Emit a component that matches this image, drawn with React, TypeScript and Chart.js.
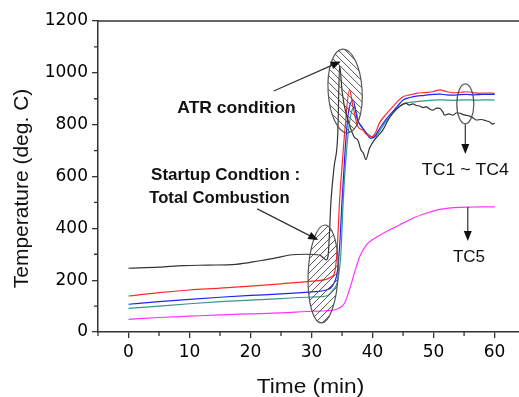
import React, { useEffect, useRef } from "react";
import { Chart, registerables } from "chart.js";

Chart.register(...registerables);

// ---- axis ticks ----
const xTicks = [0, 10, 20, 30, 40, 50, 60];
const yTicks = [0, 200, 400, 600, 800, 1000, 1200];
const xMinorTicks = [-5, 5, 15, 25, 35, 45, 55];
const yMinorTicks = [100, 300, 500, 700, 900, 1100];

// ---- series (time in min, temperature in deg. C) ----
const tc1Time = [0, 5, 9, 13, 17.6, 21.5, 24, 26.4, 29.1, 31.3, 32.0, 32.4, 32.7, 33.2, 33.7, 34.3, 34.6, 35.0, 35.4, 36.2, 37.0, 37.6, 38.1, 38.5, 38.9, 39.5, 40.3, 41.0, 41.7, 42.5, 43.3, 44.4, 45.5, 46.0, 46.6, 47.2, 47.7, 48.3, 48.8, 49.4, 49.9, 50.5, 51.0, 51.5, 51.8, 52.5, 53.2, 53.8, 54.3, 55.0, 55.9, 56.5, 57.0, 57.8, 58.6, 59.2, 59.7, 60];
const tc1Temp = [246, 250, 256, 258, 261, 275, 285, 297, 300, 297, 285, 278, 292, 510, 638, 766, 1030, 930, 870, 800, 752, 740, 702, 690, 665, 709, 741, 760, 780, 815, 845, 870, 882, 876, 880, 874, 872, 866, 869, 860, 856, 864, 863, 850, 837, 842, 837, 846, 844, 838, 833, 826, 818, 820, 815, 810, 802, 806];

const tc2Time = [0, 5, 10, 15, 20, 25, 30, 32.4, 33.2, 33.8, 34.2, 34.6, 35.0, 35.5, 36.2, 36.8, 37.6, 38.4, 39.0, 39.8, 40.5, 41.1, 42.2, 43.3, 44.2, 45.0, 46.1, 47.2, 48.5, 49.9, 51.0, 52.1, 53.2, 54.3, 55.4, 56.5, 57.5, 58.6, 60];
const tc2Temp = [139, 152, 162, 169, 177, 186, 196, 203, 212, 231, 320, 509, 640, 790, 934, 870, 792, 779, 762, 753, 770, 805, 840, 869, 892, 908, 915, 921, 924, 927, 934, 928, 923, 925, 927, 924, 921, 922, 921];

const tc3Time = [0, 5, 10, 15, 20, 25, 30, 32.4, 33.5, 34.2, 34.6, 35.0, 35.5, 36.0, 36.8, 37.5, 38.3, 39.0, 39.7, 40.5, 41.3, 42.2, 43.3, 44.2, 45.0, 46.1, 47.2, 48.5, 49.9, 51.0, 52.1, 53.2, 54.3, 55.4, 56.5, 57.5, 58.6, 60];
const tc3Temp = [107, 117, 126, 134, 141, 147, 155, 162, 181, 230, 330, 509, 700, 840, 895, 820, 790, 765, 747, 760, 790, 820, 850, 875, 895, 905, 910, 913, 917, 918, 915, 914, 916, 917, 915, 916, 917, 917];

const tc4Time = [0, 5, 10, 15, 20, 25, 30, 32.4, 33.5, 34.3, 34.8, 35.2, 35.7, 36.3, 37.0, 37.8, 38.6, 39.4, 40.2, 41.0, 42.0, 43.0, 44.0, 45.0, 46.1, 47.2, 48.5, 49.9, 51.0, 52.1, 53.2, 54.3, 55.4, 56.5, 57.5, 58.6, 60];
const tc4Temp = [91, 100, 109, 117, 123, 129, 135, 139, 162, 200, 300, 509, 690, 820, 869, 806, 780, 760, 750, 770, 806, 835, 860, 880, 886, 889, 892, 895, 896, 895, 894, 895, 896, 895, 895, 896, 895];

const tc5Time = [0, 5, 10, 15, 20, 25, 30, 32.4, 34.3, 35.4, 36.2, 37.0, 37.9, 39.0, 40.3, 42.2, 44.4, 46.6, 48.8, 51.0, 52.5, 54.3, 56, 58, 60];
const tc5Temp = [49, 56, 61, 66, 70, 74, 80, 82, 90, 111, 162, 226, 291, 336, 361, 387, 413, 439, 458, 473, 478, 481, 482, 483, 483];

const seriesColors = ["#333333", "#ff2a2a", "#2222ff", "#2f9a8c", "#ff33ff"];

function toPoints(t: number[], v: number[]) {
  return t.map((x, i) => ({ x, y: v[i] }));
}

function drawText(ctx: CanvasRenderingContext2D, text: string, x: number, y: number, font: string, align: "left" | "center" | "right", stretch: number) {
  ctx.save();
  ctx.font = font;
  ctx.fillStyle = "#111";
  ctx.textBaseline = "alphabetic";
  ctx.textAlign = "left";
  const w = ctx.measureText(text).width * stretch;
  const left = align === "left" ? x : align === "center" ? x - w / 2 : x - w;
  ctx.translate(left, y);
  ctx.scale(stretch, 1);
  ctx.fillText(text, 0, 0);
  ctx.restore();
}

function ellipse(ctx: CanvasRenderingContext2D, cx: number, cy: number, rx: number, ry: number, rot: number, hatchDir: number) {
  ctx.save();
  ctx.strokeStyle = "#555";
  if (hatchDir !== 0) {
    ctx.save();
    ctx.beginPath();
    ctx.ellipse(cx, cy, rx, ry, rot, 0, Math.PI * 2);
    ctx.clip();
    ctx.beginPath();
    ctx.lineWidth = 1;
    const R = Math.max(rx, ry) + 4;
    for (let k = -2 * R; k <= 2 * R; k += 7) {
      if (hatchDir > 0) {
        ctx.moveTo(cx + k - R, cy - R);
        ctx.lineTo(cx + k + R, cy + R);
      } else {
        ctx.moveTo(cx + k - R, cy + R);
        ctx.lineTo(cx + k + R, cy - R);
      }
    }
    ctx.stroke();
    ctx.restore();
  }
  ctx.beginPath();
  ctx.lineWidth = 1.2;
  ctx.ellipse(cx, cy, rx, ry, rot, 0, Math.PI * 2);
  ctx.stroke();
  ctx.restore();
}

function arrow(ctx: CanvasRenderingContext2D, x0: number, y0: number, x1: number, y1: number) {
  const ang = Math.atan2(y1 - y0, x1 - x0);
  const L = 10, H = 4;
  ctx.save();
  ctx.strokeStyle = "#333";
  ctx.fillStyle = "#111";
  ctx.lineWidth = 1.2;
  ctx.beginPath();
  ctx.moveTo(x0, y0);
  ctx.lineTo(x1 - Math.cos(ang) * L * 0.8, y1 - Math.sin(ang) * L * 0.8);
  ctx.stroke();
  ctx.beginPath();
  ctx.moveTo(x1, y1);
  ctx.lineTo(x1 - Math.cos(ang) * L - Math.sin(ang) * H, y1 - Math.sin(ang) * L + Math.cos(ang) * H);
  ctx.lineTo(x1 - Math.cos(ang) * L + Math.sin(ang) * H, y1 - Math.sin(ang) * L - Math.cos(ang) * H);
  ctx.closePath();
  ctx.fill();
  ctx.restore();
}

const annotPlugin = {
  id: "annot",
  afterDatasetsDraw(chart: any) {
    const ctx: CanvasRenderingContext2D = chart.ctx;
    const xs = chart.scales.x;
    const ys = chart.scales.y;
    const X = (v: number) => xs.getPixelForValue(v);
    const Y = (v: number) => ys.getPixelForValue(v);
    const area = chart.chartArea;

    // frame top line
    ctx.save();
    ctx.strokeStyle = "#333";
    ctx.lineWidth = 1.5;
    ctx.beginPath();
    ctx.moveTo(area.left, area.top);
    ctx.lineTo(area.right, area.top);
    ctx.stroke();
    // minor ticks
    ctx.lineWidth = 1.3;
    ctx.beginPath();
    xMinorTicks.forEach((v) => {
      ctx.moveTo(X(v), area.bottom);
      ctx.lineTo(X(v), area.bottom + 4);
    });
    yMinorTicks.forEach((v) => {
      ctx.moveTo(area.left, Y(v));
      ctx.lineTo(area.left - 4, Y(v));
    });
    ctx.stroke();
    ctx.restore();

    // ellipses
    ellipse(ctx, X(35.5), Y(930), 17, 42, -0.06, 1);
    ellipse(ctx, X(31.9), Y(224), 15, 49, 0.04, -1);
    ellipse(ctx, X(55.2), Y(880), 8.5, 20, 0, 0);

    // arrows
    arrow(ctx, X(23.8), Y(930), X(34.8), Y(1044));
    arrow(ctx, X(21.1), Y(475), X(31.1), Y(355));
    arrow(ctx, X(55.2), Y(802), X(55.2), Y(687));
    arrow(ctx, X(55.6), Y(482), X(55.6), Y(351));

    // labels
    const bold = "bold 17px 'Liberation Sans', Arial, sans-serif";
    const reg = "17px 'Liberation Sans', Arial, sans-serif";
    drawText(ctx, "ATR condition", X(8.0), Y(845), bold, "left", 1.03);
    drawText(ctx, "Startup Condtion :", X(3.7), Y(586), bold, "left", 1.0);
    drawText(ctx, "Total Combustion", X(3.4), Y(498), bold, "left", 0.98);
    drawText(ctx, "TC1 ~ TC4", X(55.2), Y(606), reg, "center", 1.04);
    drawText(ctx, "TC5", X(55.8), Y(270), reg, "center", 1.0);

    // axis titles
    drawText(ctx, "Time (min)", (area.left + area.right) / 2 + 2, 393, "21px 'Liberation Sans', Arial, sans-serif", "center", 1.08);
    ctx.save();
    ctx.translate(28, (area.top + area.bottom) / 2 + 12);
    ctx.rotate(-Math.PI / 2);
    drawText(ctx, "Temperature (deg. C)", 0, 0, "21px 'Liberation Sans', Arial, sans-serif", "center", 1.0);
    ctx.restore();
  },
};

export default function App() {
  const ref = useRef<HTMLCanvasElement>(null);
  useEffect(() => {
    const canvas = ref.current!;
    const tickFont = { family: "'DejaVu Sans', sans-serif", size: 17 };
    const series = [
      toPoints(tc1Time, tc1Temp),
      toPoints(tc2Time, tc2Temp),
      toPoints(tc3Time, tc3Temp),
      toPoints(tc4Time, tc4Temp),
      toPoints(tc5Time, tc5Temp),
    ];
    const chart = new Chart(canvas, {
      type: "line",
      data: {
        datasets: series.map((d, i) => ({
          label: "TC" + (i + 1),
          data: d,
          borderColor: seriesColors[i],
          borderWidth: 1.2,
          pointRadius: 0,
          fill: false,
          cubicInterpolationMode: "monotone" as const,
        })),
      },
      options: {
        responsive: false,
        devicePixelRatio: 1,
        animation: false,
        layout: { padding: { top: 21, left: 0, right: 0, bottom: 0 } },
        plugins: { legend: { display: false }, tooltip: { enabled: false } },
        scales: {
          x: {
            type: "linear",
            min: -5,
            max: 64,
            afterBuildTicks: (s: any) => {
              s.ticks = xTicks.map((v) => ({ value: v }));
            },
            afterFit: (s: any) => {
              s.height = 65;
            },
            ticks: { font: tickFont, color: "#000", padding: 4, maxRotation: 0, autoSkip: false, callback: (v: any) => String(v) },
            grid: { drawOnChartArea: false, drawTicks: true, tickLength: 6, color: "#333", lineWidth: 1.3 },
            border: { display: true, color: "#333", width: 1.5 },
          },
          y: {
            type: "linear",
            min: 0,
            max: 1200,
            afterBuildTicks: (s: any) => {
              s.ticks = yTicks.map((v) => ({ value: v }));
            },
            afterFit: (s: any) => {
              s.width = 98;
            },
            ticks: { font: tickFont, color: "#000", padding: 4, autoSkip: false, callback: (v: any) => String(v) },
            grid: { drawOnChartArea: false, drawTicks: true, tickLength: 6, color: "#333", lineWidth: 1.3 },
            border: { display: true, color: "#333", width: 1.5 },
          },
        },
      },
      plugins: [annotPlugin],
    } as any);
    return () => chart.destroy();
  }, []);
  return (
    <div style={{ position: "fixed", left: 0, top: 0, width: 519, height: 397, background: "#fff" }}>
      <canvas ref={ref} width={519} height={397} style={{ width: 519, height: 397, display: "block" }} />
    </div>
  );
}
